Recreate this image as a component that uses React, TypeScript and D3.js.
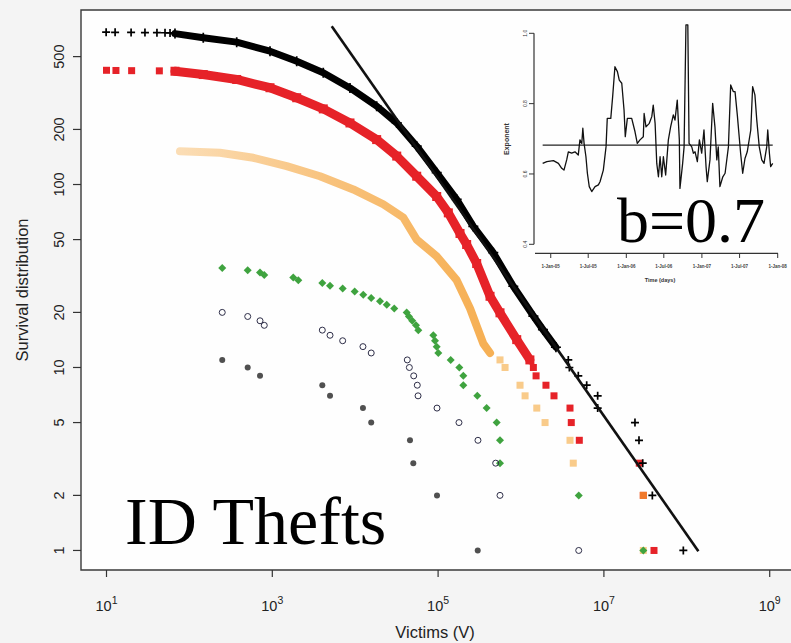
import React, { useEffect } from "react";
import * as d3 from "d3";

// ---------- main chart data ----------
const yTickValues = [1, 2, 5, 10, 20, 50, 100, 200, 500];
const xTickExponents = [1, 3, 5, 7, 9];

// black "+" series
const blackHeadX = [9.9, 12.7, 19.8, 29.1, 40.6, 50.8, 58.4];
const blackHeadY = [680, 679, 678, 677, 676, 675, 674];
const blackBandX = [67, 147, 372, 938, 1970, 4120, 8650, 18150, 31700, 55200, 96200, 167500, 266000, 463000, 807000, 1410000, 1840000, 2640000];
const blackBandY = [668, 634, 600, 535, 472, 408, 337, 268, 217, 162, 116, 83, 59, 42.4, 27.8, 19.1, 16.1, 12.9];
const blackTailX = [3.72e6, 3.83e6, 4.91e6, 6.2e6, 8.41e6, 8.41e6, 2.37e7, 2.65e7, 2.94e7, 3.84e7, 9.08e7];
const blackTailY = [11, 10, 9, 8, 7, 6, 5, 4, 3, 2, 1];

// red squares
const redHeadX = [10.0, 13.0, 20.1, 43.4];
const redHeadY = [421, 420, 419, 418];
const redBandX = [67, 147, 372, 938, 1970, 4120, 8650, 18150, 31700, 55200, 96200, 132800, 183800, 221000, 292000, 423000, 558000, 888000, 1280000];
const redBandY = [416, 399, 375, 338, 298, 259, 217, 176, 143, 111, 86, 70, 54, 47, 37, 24.5, 19.9, 14.2, 11];
const redTailX = [1.41e6, 1.52e6, 2.0e6, 2.5e6, 3.9e6, 4.04e6, 5.05e6, 2.67e7, 2.99e7, 4.02e7];
const redTailY = [10, 9, 8, 7, 6, 5, 4, 3, 2, 1];

// orange squares (faint)
const orangeBandX = [77, 234, 590, 1490, 3760, 9480, 21800, 38000, 55200, 96200, 167500, 243000, 351000, 423000];
const orangeBandY = [152, 149, 140, 126, 111, 94, 78, 66, 50, 40.5, 30, 21, 13.5, 12];
const orangeTailX = [5.58e5, 6.42e5, 9.73e5, 1.12e6, 1.55e6, 1.95e6, 3.9e6, 4.27e6, 2.99e7, 2.99e7];
const orangeTailY = [11, 10, 8, 7, 6, 5, 4, 3, 2, 1];

// green diamonds
const greenX = [249, 505, 711, 800, 1790, 2060, 4010, 4970, 7060, 9860, 12500, 15600, 19900, 24000, 29600, 41800, 44500, 48800, 54100, 57700, 87600, 91800, 96200, 100500, 141800, 180300, 201500, 201500, 297000, 385000, 509000, 558000, 558000, 4970000, 29900000];
const greenY = [35, 34, 33, 32, 31, 30, 29, 28, 27, 26, 25, 24, 23, 22, 21, 20, 19, 18, 17, 16, 15, 14, 13, 12, 11, 10, 9, 8, 7, 6, 5, 4, 3, 2, 1];

// open circles
const openX = [249, 505, 711, 800, 4010, 4970, 7060, 12400, 15600, 42500, 45000, 50800, 56100, 57300, 97000, 178600, 302600, 495000, 558000, 4970000];
const openY = [20, 19, 18, 17, 16, 15, 14, 13, 12, 11, 10, 9, 8, 7, 6, 5, 4, 3, 2, 1];

// grey filled circles
const grayX = [249, 505, 711, 4010, 4970, 12400, 15600, 45800, 50200, 97000, 300600];
const grayY = [11, 10, 9, 8, 7, 6, 5, 4, 3, 2, 1];

// power-law fit line
const fitX = [5210, 1.38e8];
const fitY = [733, 0.99];

// ---------- inset data ----------
const insetDays = [-39, -19, 13, 37, 53, 64, 77, 85, 101, 117, 133, 141, 150, 155, 161, 170, 177, 186, 198, 214, 230, 238, 254, 267, 273, 290, 299, 310, 322, 331, 343, 354, 360, 370, 391, 407, 418, 431, 447, 451, 460, 476, 488, 495, 504, 512, 520, 528, 536, 544, 555, 568, 579, 592, 600, 611, 621, 624, 637, 644, 653, 662, 668, 681, 689, 697, 708, 718, 729, 740, 750, 756, 769, 782, 793, 802, 809, 817, 831, 842, 858, 869, 882, 890, 901, 908, 917, 927, 938, 949, 966, 975, 986, 995, 1007, 1019, 1030, 1043, 1048, 1056, 1062, 1072];
const insetExponent = [0.630, 0.635, 0.638, 0.630, 0.616, 0.611, 0.640, 0.663, 0.659, 0.663, 0.654, 0.697, 0.687, 0.730, 0.687, 0.649, 0.602, 0.564, 0.550, 0.564, 0.569, 0.578, 0.611, 0.677, 0.758, 0.758, 0.820, 0.905, 0.891, 0.867, 0.858, 0.782, 0.706, 0.758, 0.758, 0.720, 0.687, 0.697, 0.706, 0.772, 0.734, 0.744, 0.763, 0.796, 0.744, 0.630, 0.592, 0.649, 0.592, 0.649, 0.597, 0.697, 0.734, 0.768, 0.753, 0.810, 0.697, 0.559, 0.630, 0.677, 1.024, 1.024, 0.687, 0.677, 0.659, 0.663, 0.635, 0.697, 0.659, 0.725, 0.621, 0.578, 0.640, 0.801, 0.734, 0.640, 0.677, 0.564, 0.592, 0.602, 0.677, 0.853, 0.834, 0.834, 0.768, 0.720, 0.659, 0.602, 0.644, 0.663, 0.725, 0.848, 0.825, 0.753, 0.677, 0.640, 0.630, 0.677, 0.725, 0.659, 0.621, 0.630];
const insetMean = 0.682;
const insetYTicks = [0.4, 0.6, 0.8, 1.0];
const insetXTickDays = [0, 181, 365, 546, 730, 912, 1096];
const insetXTickLabels = ["1-Jan-05", "1-Jul-05", "1-Jan-06", "1-Jul-06", "1-Jan-07", "1-Jul-07", "1-Jan-08"];

const SANS = "'Liberation Sans', Arial, Helvetica, sans-serif";
const SERIF = "'Liberation Serif', 'Times New Roman', serif";

function zip(xs: number[], ys: number[]): [number, number][] {
  return xs.map((x, i) => [x, ys[i]]);
}

export default function App() {
  useEffect(() => {
    document.body.style.margin = "0";
  }, []);

  const W = 791;
  const H = 643;
  const left = 81, top = 10, bottom = 570, right = 789;

  const xS = d3.scaleLog().domain([4.925, 1.709e9]).range([left, right]);
  const yS = d3.scaleLog().domain([0.782, 899]).range([bottom, top]);

  const line = d3
    .line<[number, number]>()
    .x((d) => xS(d[0]))
    .y((d) => yS(d[1]));

  const plus = (p: [number, number], i: number, color: string, s = 4) => {
    const x = xS(p[0]), y = yS(p[1]);
    return (
      <path key={i} d={`M${x - s},${y}H${x + s}M${x},${y - s}V${y + s}`} stroke={color} strokeWidth={1.7} fill="none" />
    );
  };
  const square = (p: [number, number], i: number, color: string, s = 3.5, op = 1) => (
    <rect key={i} x={xS(p[0]) - s} y={yS(p[1]) - s} width={2 * s} height={2 * s} fill={color} opacity={op} />
  );
  const diamond = (p: [number, number], i: number, color: string, s = 4) => {
    const x = xS(p[0]), y = yS(p[1]);
    return <path key={i} d={`M${x},${y - s}L${x + s},${y}L${x},${y + s}L${x - s},${y}Z`} fill={color} />;
  };

  const blackHead = zip(blackHeadX, blackHeadY);
  const blackBand = zip(blackBandX, blackBandY);
  const blackTail = zip(blackTailX, blackTailY);
  const redHead = zip(redHeadX, redHeadY);
  const redBand = zip(redBandX, redBandY);
  const redTail = zip(redTailX, redTailY);
  const orangeBand = zip(orangeBandX, orangeBandY);
  const orangeTail = zip(orangeTailX, orangeTailY);
  const green = zip(greenX, greenY);
  const open = zip(openX, openY);
  const gray = zip(grayX, grayY);
  const fit = zip(fitX, fitY);

  // inset scales
  const ixS = d3.scaleLinear().domain([-76, 1097.5]).range([535, 778]);
  const iyS = d3.scaleLinear().domain([0.4, 1.0]).range([244.3, 33.3]);
  const insetLine = d3
    .line<[number, number]>()
    .x((d) => ixS(d[0]))
    .y((d) => iyS(d[1]));
  const insetPts = zip(insetDays, insetExponent);
  const [d0, d1] = d3.extent(insetDays) as [number, number];

  const RED = "#E62228";
  const ORANGE = "#F5A93C";
  const GREEN = "#3FA33F";

  return (
    <svg width={W} height={H} style={{ position: "absolute", left: 0, top: 0, display: "block" }}>
      <defs>
        <linearGradient id="orangeGrad" gradientUnits="userSpaceOnUse" x1={180} y1={0} x2={480} y2={0}>
          <stop offset="0" stopColor="#FBDDB5" />
          <stop offset="0.5" stopColor="#F8C27C" />
          <stop offset="1" stopColor="#F6B055" />
        </linearGradient>
      </defs>
      <rect x={0} y={0} width={W} height={H} fill="#F4F4F4" />
      <rect x={left} y={top} width={W - left} height={bottom - top} fill="#FEFEFE" />

      {/* red */}
      <path d={line(redBand) || ""} stroke={RED} strokeWidth={9} fill="none" strokeLinejoin="round" strokeLinecap="round" />
      {redHead.map((p, i) => square(p, i, RED))}
      {redBand.map((p, i) => square(p, i, RED, 4.5))}
      {redTail.map((p, i) => square(p, i, RED))}

      {/* orange */}
      <path d={line(orangeBand) || ""} stroke="url(#orangeGrad)" strokeWidth={8} fill="none" strokeLinejoin="round" strokeLinecap="round" />
      {orangeTail.map((p, i) => square(p, i, ORANGE, 3.5, 0.6))}
      {orangeTail.slice(-2, -1).map((p, i) => square(p, i, "#F07A2A", 3.5, 0.9))}

      {/* green */}
      {green.map((p, i) => diamond(p, i, GREEN))}

      {/* open circles */}
      {open.map((p, i) => (
        <circle key={i} cx={xS(p[0])} cy={yS(p[1])} r={3} fill="none" stroke="#2E2E48" strokeWidth={1} />
      ))}

      {/* grey */}
      {gray.map((p, i) => (
        <circle key={i} cx={xS(p[0])} cy={yS(p[1])} r={3} fill="#505050" />
      ))}

      {/* black */}
      <path d={line(blackBand) || ""} stroke="#000" strokeWidth={7} fill="none" strokeLinejoin="round" strokeLinecap="round" />
      {blackHead.map((p, i) => plus(p, i, "#000"))}
      {blackBand.map((p, i) => plus(p, i, "#000", 5))}
      {blackTail.map((p, i) => plus(p, i, "#000"))}

      {/* fit line */}
      <path d={line(fit) || ""} stroke="#111" strokeWidth={2.6} fill="none" />

      {/* frame */}
      <path d={`M${W + 2},${top}H${left}V${bottom}H${W + 2}`} stroke="#3A3A3A" strokeWidth={1.4} fill="none" />

      {/* y axis ticks */}
      {yTickValues.map((v) => (
        <g key={v}>
          <line x1={left - 8} x2={left} y1={yS(v)} y2={yS(v)} stroke="#333" strokeWidth={1.2} />
          <text
            transform={`translate(64,${yS(v)}) rotate(-90)`}
            textAnchor="middle"
            fontFamily={SANS}
            fontSize={14.5}
            fill="#222"
          >
            {v}
          </text>
        </g>
      ))}
      <text transform={`translate(28,${(top + bottom) / 2}) rotate(-90)`} textAnchor="middle" fontFamily={SANS} fontSize={16.5} fill="#222">
        Survival distribution
      </text>

      {/* x axis ticks */}
      {xTickExponents.map((e) => {
        const x = xS(Math.pow(10, e));
        return (
          <g key={e}>
            <line x1={x} x2={x} y1={bottom} y2={bottom + 7} stroke="#333" strokeWidth={1.2} />
            <text x={x} y={611} textAnchor="middle" fontFamily={SANS} fontSize={14.5} fill="#222">
              10
              <tspan dy={-7} fontSize={10.5}>
                {e}
              </tspan>
            </text>
          </g>
        );
      })}
      <text x={(left + right) / 2} y={638} textAnchor="middle" fontFamily={SANS} fontSize={16.5} fill="#222">
        Victims (V)
      </text>

      {/* big labels */}
      <text x={125} y={544} fontFamily={SERIF} fontSize={68} fill="#000">
        ID Thefts
      </text>

      {/* inset */}
      <g>
        <line x1={534} x2={534} y1={iyS(1.0)} y2={iyS(0.4)} stroke="#333" strokeWidth={1.2} />
        {insetYTicks.map((v) => (
          <g key={v}>
            <line x1={529} x2={534} y1={iyS(v)} y2={iyS(v)} stroke="#333" strokeWidth={1} />
            <text transform={`translate(527,${iyS(v)}) rotate(-90)`} textAnchor="middle" fontFamily={SANS} fontSize={5} fill="#333">
              {v.toFixed(1)}
            </text>
          </g>
        ))}
        <text transform={`translate(509,139) rotate(-90)`} textAnchor="middle" fontFamily={SANS} fontSize={7} fontWeight="bold" fill="#333">
          Exponent
        </text>
        <line x1={ixS.range()[0]} x2={ixS.range()[1]} y1={253.3} y2={253.3} stroke="#333" strokeWidth={1.2} />
        {insetXTickDays.map((d, i) => (
          <g key={d}>
            <line x1={ixS(d)} x2={ixS(d)} y1={253.3} y2={258} stroke="#333" strokeWidth={1} />
            <text x={ixS(d)} y={268} textAnchor="middle" fontFamily={SANS} fontSize={4.5} fontWeight="bold" fill="#444">
              {insetXTickLabels[i]}
            </text>
          </g>
        ))}
        <text x={660} y={282} textAnchor="middle" fontFamily={SANS} fontSize={5.5} fontWeight="bold" fill="#333">
          Time (days)
        </text>
        <line x1={ixS(d0)} x2={ixS(d1)} y1={iyS(insetMean)} y2={iyS(insetMean)} stroke="#222" strokeWidth={1.2} />
        <path d={insetLine(insetPts) || ""} stroke="#111" strokeWidth={1.3} fill="none" strokeLinejoin="round" />
      </g>

      <text x={617} y={242} fontFamily={SERIF} fontSize={64} fill="#000">
        b=0.7
      </text>
    </svg>
  );
}
